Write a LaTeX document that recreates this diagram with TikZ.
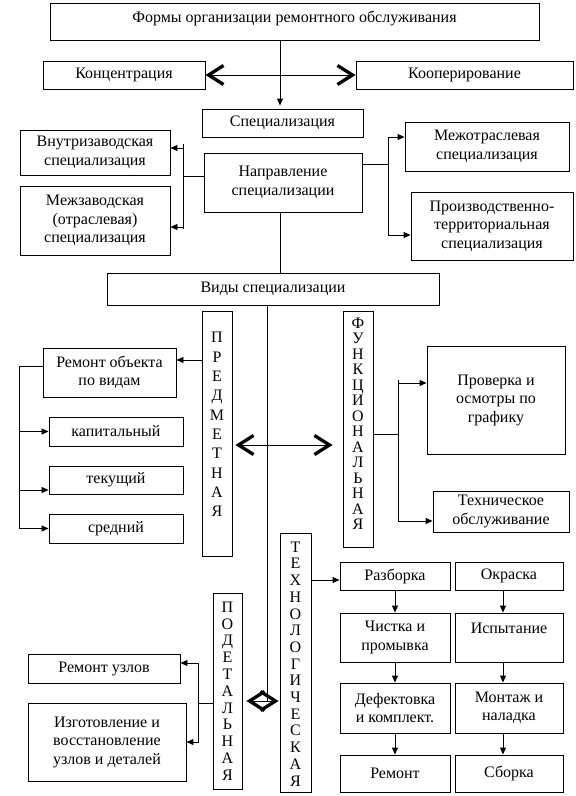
\documentclass[tikz,border=0pt]{standalone}
\usepackage{fontspec}
\setmainfont{Liberation Serif}
\usetikzlibrary{arrows.meta,calc}

\newcommand{\colword}[5]{\parbox[c][#2][t]{#1}{\centering\baselineskip=#3\vspace*{#4}#5}}

\begin{document}
\begin{tikzpicture}[x=1pt,y=-1pt,
  box/.style={draw,line width=0.9pt,inner sep=0pt,align=center,font=\fontsize{16}{18.5}\selectfont},
  col/.style={draw,line width=0.9pt,inner sep=0pt,font=\fontsize{16}{18.5}\selectfont},
  ln/.style={line width=0.9pt},
  arr/.style={-{Triangle[length=7pt,width=6pt]},line width=0.9pt},
  bigarr/.style={{Straight Barb[length=15pt,width=19pt,line width=3.3pt]}-{Straight Barb[length=15pt,width=19pt,line width=3.3pt]},line width=0.9pt}]
\useasboundingbox (0,0) rectangle (576,796);
\node[box,minimum width=489pt,minimum height=37pt,text height=19pt,text depth=18pt] (forms) at (294.5,21.5) {Формы организации ремонтного обслуживания};
\node[box,minimum width=162pt,minimum height=28pt] (konc) at (124,75) {Концентрация};
\node[box,minimum width=217pt,minimum height=28pt] (koop) at (464.5,75) {Кооперирование};
\node[box,minimum width=161pt,minimum height=28pt] (spec) at (282.5,123) {Специализация};
\node[box,minimum width=150pt,minimum height=45pt] (vnutr) at (95,152.5) {Внутризаводская\\специализация};
\node[box,minimum width=150pt,minimum height=69pt] (mezhzav) at (95,220.5) {Межзаводская\\(отраслевая)\\специализация};
\node[box,minimum width=158pt,minimum height=59pt] (naprav) at (283,182.5) {Направление\\специализации};
\node[box,minimum width=164pt,minimum height=49pt] (mezhotr) at (487,146.5) {Межотраслевая\\специализация};
\node[box,minimum width=162pt,minimum height=68pt] (proizv) at (492,226) {Производственно-\\территориальная\\специализация};
\node[box,minimum width=332pt,minimum height=32pt] (vidy) at (273,289) {Виды специализации};
\node[col] (predm) at (217,433.5) {\colword{30pt}{245pt}{19.3pt}{21.5pt}{П\\Р\\Е\\Д\\М\\Е\\Т\\Н\\А\\Я}};
\node[col] (funk) at (358,429) {\colword{30pt}{236pt}{15.5pt}{7pt}{Ф\\У\\Н\\К\\Ц\\И\\О\\Н\\А\\Л\\Ь\\Н\\А\\Я}};
\node[col] (podet) at (227.5,691) {\colword{29pt}{196pt}{16.8pt}{8.8pt}{П\\О\\Д\\Е\\Т\\А\\Л\\Ь\\Н\\А\\Я}};
\node[col] (tech) at (295.5,662.5) {\colword{31pt}{259pt}{16.7pt}{8.8pt}{Т\\Е\\Х\\Н\\О\\Л\\О\\Г\\И\\Ч\\Е\\С\\К\\А\\Я}};
\node[box,minimum width=133pt,minimum height=49pt] (remobj) at (109.5,372.5) {Ремонт объекта\\по видам};
\node[box,minimum width=134pt,minimum height=29pt] (kap) at (116,431.5) {капитальный};
\node[box,minimum width=134pt,minimum height=28pt] (tek) at (116,480) {текущий};
\node[box,minimum width=134pt,minimum height=29pt] (sred) at (116,528.5) {средний};
\node[box,minimum width=138pt,minimum height=108pt] (prov) at (496,400) {Проверка и\\осмотры по\\графику};
\node[box,minimum width=136pt,minimum height=41pt] (tobs) at (501,511.5) {Техническое\\обслуживание};
\node[box,minimum width=152pt,minimum height=29pt] (remuzl) at (104,668.5) {Ремонт узлов};
\node[box,minimum width=158pt,minimum height=78pt] (izgot) at (107,742) {Изготовление и\\восстановление\\узлов и деталей};
\node[box,minimum width=110pt,minimum height=28pt] (razb) at (395,576) {Разборка};
\node[box,minimum width=108pt,minimum height=28pt] (okr) at (509,576) {Окраска};
\node[box,minimum width=110pt,minimum height=49pt] (chist) at (395,637.5) {Чистка и\\промывка};
\node[box,minimum width=108pt,minimum height=49pt,text height=20pt,text depth=29pt] (isp) at (509,637.5) {Испытание};
\node[box,minimum width=110pt,minimum height=50pt] (defek) at (395,708) {Дефектовка\\и комплект.};
\node[box,minimum width=108pt,minimum height=50pt] (montazh) at (509,708) {Монтаж и\\наладка};
\node[box,minimum width=110pt,minimum height=37pt] (remont) at (395,773.5) {Ремонт};
\node[box,minimum width=108pt,minimum height=37pt] (sborka) at (509,773.5) {Сборка};
\coordinate (tx) at (280,0);
\coordinate (lb) at (183,176);
\coordinate (lbt) at (183,144);
\coordinate (lbb) at (183,229);
\coordinate (la1) at (183,148);
\coordinate (la2) at (183,227);
\coordinate (rb) at (388,164);
\coordinate (ra1) at (388,137);
\coordinate (ra2) at (388,235);
\coordinate (pa) at (190,360);
\coordinate (lbus) at (19,366);
\coordinate (ta) at (19,490);
\coordinate (pf) at (290,445);
\coordinate (fb) at (398,434);
\coordinate (fbt) at (398,380);
\coordinate (fbb) at (398,522);
\coordinate (fa1) at (398,383);
\coordinate (fa2) at (398,521);
\coordinate (dm) at (267,701);
\coordinate (pb) at (198,703);
\coordinate (pbt) at (198,663);
\coordinate (pbb) at (198,742);
\coordinate (ra) at (320,580);
\coordinate (rc) at (503,0);
\draw[arr,shorten >=3pt] (forms.south -| tx) -- (spec.north -| tx);
\draw[bigarr] (konc.east) -- (koop.west);
\draw[ln] (naprav.west |- lb) -- (lb);
\draw[ln] (lbt) -- (lbb);
\draw[arr] (la1) -- (la1 -| vnutr.east);
\draw[arr] (la2) -- (la2 -| mezhzav.east);
\draw[ln] (naprav.east |- rb) -- (rb);
\draw[arr] (rb) -- (ra1) -- (ra1 -| mezhotr.west);
\draw[arr] (rb) -- (ra2) -- (ra2 -| proizv.west);
\draw[ln] (naprav.south -| tx) -- (vidy.north -| tx);
\draw[ln] (vidy.south -| dm) -- (dm);
\draw[arr] (predm.west |- pa) -- (remobj.east |- pa);
\draw[ln] (remobj.west |- lbus) -- (lbus);
\draw[arr] (lbus) |- (sred.west);
\draw[arr] (lbus |- kap.west) -- (kap.west);
\draw[arr] (ta) -- (ta -| tek.west);
\draw[bigarr,shorten <=3pt,shorten >=10pt] (predm.east |- pf) -- (funk.west |- pf);
\draw[ln] (funk.east |- fb) -- (fb);
\draw[ln] (fbt) -- (fbb);
\draw[arr] (fa1) -- (fa1 -| prov.west);
\draw[arr] (fa2) -- (fa2 -| tobs.west);
\draw[ln] (podet.west |- pb) -- (pb);
\draw[arr] (pb) -- (pbt) -- (pbt -| remuzl.east);
\draw[arr] (pb) -- (pbb) -- (pbb -| izgot.east);
\draw[bigarr,shorten <=4pt,shorten >=1pt] (podet.east |- dm) -- (tech.west |- dm);
\draw[arr] (tech.east |- ra) -- (razb.west |- ra);
\draw[arr] (razb) -- (chist);
\draw[arr] (chist) -- (defek);
\draw[arr] (defek) -- (remont);
\draw[arr] (okr.south -| rc) -- (isp.north -| rc);
\draw[arr] (isp.south -| rc) -- (montazh.north -| rc);
\draw[arr] (montazh.south -| rc) -- (sborka.north -| rc);
\end{tikzpicture}
\end{document}
